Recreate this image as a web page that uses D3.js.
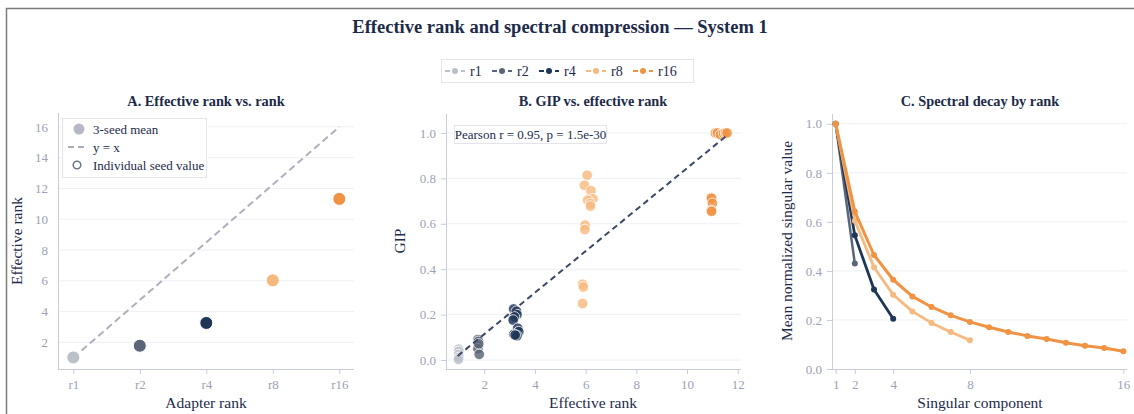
<!DOCTYPE html>
<html>
<head>
<meta charset="utf-8">
<script src="https://cdn.jsdelivr.net/npm/d3@7"></script>
<style>
  html, body { margin: 0; padding: 0; background: #fff; }
  svg { display: block; font-family: "Liberation Serif", "Times New Roman", serif; }
</style>
</head>
<body>
<svg id="chart" width="1134" height="414"></svg>
<script>
// ---- data ----
const ranks = ["r1", "r2", "r4", "r8", "r16"];
const rankColors = ["#bcc0cb", "#5b6579", "#1f3657", "#f6b980", "#f09344"];

// Panel A: 3-seed mean of effective rank per adapter rank
const meanEffRank = [1.02, 1.78, 3.26, 6.03, 11.32];

// Panel B: per-run (effective rank, GIP) pairs, grouped by adapter rank
const gipR1 = [[0.99, 0.048], [1.0, 0.038], [0.99, 0.024], [1.0, 0.012], [0.98, 0.003]];
const gipR2 = [[1.75, 0.090], [1.77, 0.082], [1.76, 0.062], [1.75, 0.050], [1.78, 0.071], [1.80, 0.025]];
const gipR4 = [[3.16, 0.225], [3.27, 0.215], [3.29, 0.200], [3.19, 0.190], [3.14, 0.176],
               [3.32, 0.140], [3.36, 0.125], [3.17, 0.113], [3.29, 0.107], [3.22, 0.110]];
const gipR8 = [[6.06, 0.814], [5.95, 0.770], [6.21, 0.746], [6.29, 0.710], [6.08, 0.704],
               [6.19, 0.689], [6.19, 0.678], [5.98, 0.594], [5.97, 0.575], [5.88, 0.334],
               [5.91, 0.322], [5.88, 0.249]];
const gipR16 = [[10.95, 0.716], [10.97, 0.712], [11.0, 0.690], [10.96, 0.658], [10.97, 0.655],
                [11.12, 1.0], [11.20, 1.0], [11.32, 0.993], [11.44, 0.998], [11.52, 1.0], [11.58, 1.0]];
const gipGroups = [gipR1, gipR2, gipR4, gipR8, gipR16];
const fitLine = [[0.95, 0.018], [11.62, 0.993]];
const pearsonText = "Pearson r = 0.95, p = 1.5e-30";

// Panel C: mean normalized singular values per component
const specR1 = [1.0];
const specR2 = [1.0, 0.43];
const specR4 = [1.0, 0.545, 0.324, 0.205];
const specR8 = [1.0, 0.605, 0.415, 0.303, 0.235, 0.188, 0.151, 0.117];
const specR16 = [1.0, 0.642, 0.465, 0.364, 0.296, 0.253, 0.219, 0.192, 0.170, 0.151,
                 0.135, 0.122, 0.107, 0.095, 0.086, 0.072];
const spectra = [specR1, specR2, specR4, specR8, specR16];

// tick labels
const ticksA = [2, 4, 6, 8, 10, 12, 14, 16];
const ticksBx = [2, 4, 6, 8, 10, 12];
const ticksBy = [0, 0.2, 0.4, 0.6, 0.8, 1.0];
const ticksCx = [1, 2, 4, 8, 16];
const ticksCy = [0, 0.2, 0.4, 0.6, 0.8, 1.0];

// ---- styles ----
const INK = "#1d2a4a";
const TICK = "#9ca2b3";
const GRID = "#eef0f4";
const AXIS = "#c9cdd8";

const svg = d3.select("#chart");

// outer frame
svg.append("path")
  .attr("d", "M6.5,500 L6.5,8.5 L1200,8.5")
  .attr("fill", "none").attr("stroke", "#7c7c7c").attr("stroke-width", 1.5);

svg.append("text")
  .attr("x", 560).attr("y", 33).attr("text-anchor", "middle")
  .attr("font-size", 18.5).attr("font-weight", "bold").attr("fill", INK)
  .text("Effective rank and spectral compression \u2014 System 1");

// top legend
const leg = svg.append("g");
leg.append("rect").attr("x", 441.5).attr("y", 59.5).attr("width", 252).attr("height", 23)
  .attr("fill", "#fff").attr("stroke", "#e3e5ea");
const legX = [445, 492, 539, 586, 633];
ranks.forEach((r, i) => {
  const g = leg.append("g").attr("transform", `translate(${legX[i]},71)`);
  g.append("line").attr("x1", 0).attr("x2", 20).attr("stroke", rankColors[i])
    .attr("stroke-width", 2).attr("stroke-dasharray", "5,3");
  g.append("circle").attr("cx", 10).attr("r", 3).attr("fill", rankColors[i]);
  g.append("text").attr("x", 25).attr("y", 5).attr("font-size", 14).attr("fill", INK).text(r);
});

function panelTitle(x, text) {
  svg.append("text").attr("x", x).attr("y", 106).attr("text-anchor", "middle")
    .attr("font-size", 14.3).attr("font-weight", "bold").attr("fill", INK).text(text);
}

function styleAxis(g) {
  g.selectAll(".domain").attr("stroke", AXIS);
  g.selectAll(".tick line").attr("stroke", AXIS);
  g.selectAll(".tick text").attr("fill", TICK).attr("font-size", 13)
    .attr("font-family", "Liberation Serif, serif");
}

function yGrid(y, ticks, x0, x1) {
  svg.append("g").selectAll("line").data(ticks).join("line")
    .attr("x1", x0).attr("x2", x1)
    .attr("y1", d => y(d)).attr("y2", d => y(d))
    .attr("stroke", GRID).attr("stroke-width", 1);
}

function axisTitles(xc, yBottom, xTitle, yx, yc, yTitle) {
  svg.append("text").attr("x", xc).attr("y", yBottom).attr("text-anchor", "middle")
    .attr("font-size", 15.5).attr("fill", INK).text(xTitle);
  svg.append("text").attr("transform", `translate(${yx},${yc}) rotate(-90)`)
    .attr("text-anchor", "middle").attr("font-size", 15.5).attr("fill", INK).text(yTitle);
}

// ---- Panel A ----
{
  const L = 58, R = 354, T = 113, B = 369;
  const x = d3.scalePoint().domain(ranks).range([73.3, 339.3]);
  const y = d3.scaleLinear().domain([0.27, 16.9]).range([B, T]);
  panelTitle(206, "A. Effective rank vs. rank");
  yGrid(y, ticksA, L, R);

  const gx = svg.append("g").attr("transform", `translate(0,${B})`)
    .call(d3.axisBottom(x).tickSize(5).tickPadding(6));
  gx.select(".domain").attr("d", `M${L},0.5H${R}`);
  styleAxis(gx);
  const gy = svg.append("g").attr("transform", `translate(${L},0)`)
    .call(d3.axisLeft(y).tickValues(ticksA).tickSize(0).tickPadding(10));
  gy.select(".domain").attr("d", `M0.5,${T}V${B}`);
  styleAxis(gy);

  svg.append("line")
    .attr("x1", x("r1")).attr("y1", y(1)).attr("x2", x("r16")).attr("y2", y(16))
    .attr("stroke", "#aeb1bd").attr("stroke-width", 2).attr("stroke-dasharray", "7,4");

  svg.append("g").selectAll("circle").data(ranks).join("circle")
    .attr("cx", d => x(d)).attr("cy", (d, i) => y(meanEffRank[i])).attr("r", 6.5)
    .attr("fill", (d, i) => rankColors[i]).attr("stroke", "#fff").attr("stroke-width", 1);

  axisTitles(206, 408, "Adapter rank", 22, 241, "Effective rank");

  // inner legend
  const lg = svg.append("g");
  lg.append("rect").attr("x", 62.5).attr("y", 118.5).attr("width", 144).attr("height", 59)
    .attr("fill", "rgba(255,255,255,0.9)").attr("stroke", "#e3e5ea");
  lg.append("circle").attr("cx", 79).attr("cy", 129).attr("r", 5.5).attr("fill", "#b7bac6");
  lg.append("text").attr("x", 93).attr("y", 133.5).attr("font-size", 13).attr("fill", INK).text("3-seed mean");
  lg.append("line").attr("x1", 68).attr("x2", 88).attr("y1", 147).attr("y2", 147)
    .attr("stroke", "#a9adba").attr("stroke-width", 2).attr("stroke-dasharray", "6,4");
  lg.append("text").attr("x", 93).attr("y", 151.5).attr("font-size", 13).attr("fill", INK).text("y = x");
  lg.append("circle").attr("cx", 77).attr("cy", 165).attr("r", 3.8).attr("fill", "none")
    .attr("stroke", "#6d7485").attr("stroke-width", 1.5);
  lg.append("text").attr("x", 93).attr("y", 169.5).attr("font-size", 13).attr("fill", INK).text("Individual seed value");
}

// ---- Panel B ----
{
  const L = 446, R = 741, T = 114, B = 369;
  const x = d3.scaleLinear().domain([0.49, 12.13]).range([L, R]);
  const y = d3.scaleLinear().domain([-0.0395, 1.0835]).range([B, T]);
  panelTitle(593, "B. GIP vs. effective rank");
  yGrid(y, ticksBy, L, R);

  const gx = svg.append("g").attr("transform", `translate(0,${B})`)
    .call(d3.axisBottom(x).tickValues(ticksBx).tickSize(5).tickPadding(6));
  gx.select(".domain").attr("d", `M${L},0.5H${R}`);
  styleAxis(gx);
  const gy = svg.append("g").attr("transform", `translate(${L},0)`)
    .call(d3.axisLeft(y).tickValues(ticksBy).tickFormat(d3.format(".1f")).tickSize(5).tickPadding(5));
  gy.select(".domain").attr("d", `M0.5,${T}V${B}`);
  styleAxis(gy);

  gipGroups.forEach((pts, i) => {
    svg.append("g").selectAll("circle").data(pts).join("circle")
      .attr("cx", d => x(d[0])).attr("cy", d => y(d[1])).attr("r", 5.3)
      .attr("fill", rankColors[i]).attr("fill-opacity", 0.82)
      .attr("stroke", "#fff").attr("stroke-width", 0.8);
  });

  svg.append("line")
    .attr("x1", x(fitLine[0][0])).attr("y1", y(fitLine[0][1]))
    .attr("x2", x(fitLine[1][0])).attr("y2", y(fitLine[1][1]))
    .attr("stroke", "#3c4865").attr("stroke-width", 2).attr("stroke-dasharray", "6,4");

  svg.append("rect").attr("x", 454.5).attr("y", 125.5).attr("width", 152).attr("height", 18)
    .attr("fill", "rgba(255,255,255,0.9)").attr("stroke", "#e3e5ea");
  svg.append("text").attr("x", 530.5).attr("y", 139).attr("text-anchor", "middle")
    .attr("font-size", 13).attr("fill", INK).text(pearsonText);

  axisTitles(593, 408, "Effective rank", 405, 241, "GIP");
}

// ---- Panel C ----
{
  const L = 832, R = 1127, T = 114, B = 369;
  const x = d3.scaleLinear().domain([0.81, 16.19]).range([L, R]);
  const y = d3.scaleLinear().domain([0, 1.04]).range([B, T]);
  panelTitle(980, "C. Spectral decay by rank");
  yGrid(y, ticksCy.slice(1), L, R);

  const gx = svg.append("g").attr("transform", `translate(0,${B})`)
    .call(d3.axisBottom(x).tickValues(ticksCx).tickSize(5).tickPadding(6));
  gx.select(".domain").attr("d", `M${L},0.5H${R}`);
  styleAxis(gx);
  const gy = svg.append("g").attr("transform", `translate(${L},0)`)
    .call(d3.axisLeft(y).tickValues(ticksCy).tickFormat(d3.format(".1f")).tickSize(5).tickPadding(5));
  gy.select(".domain").attr("d", `M0.5,${T}V${B}`);
  styleAxis(gy);

  const line = d3.line().x((d, i) => x(i + 1)).y(d => y(d));
  const widths = [2.5, 2.5, 2.8, 2.8, 3];
  spectra.forEach((vals, k) => {
    svg.append("path").datum(vals).attr("d", line)
      .attr("fill", "none").attr("stroke", rankColors[k]).attr("stroke-width", widths[k])
      .attr("stroke-linejoin", "round");
    svg.append("g").selectAll("circle").data(vals).join("circle")
      .attr("cx", (d, i) => x(i + 1)).attr("cy", d => y(d)).attr("r", 3)
      .attr("fill", rankColors[k]);
  });

  axisTitles(980, 408, "Singular component", 792, 241, "Mean normalized singular value");
}
</script>
</body>
</html>
